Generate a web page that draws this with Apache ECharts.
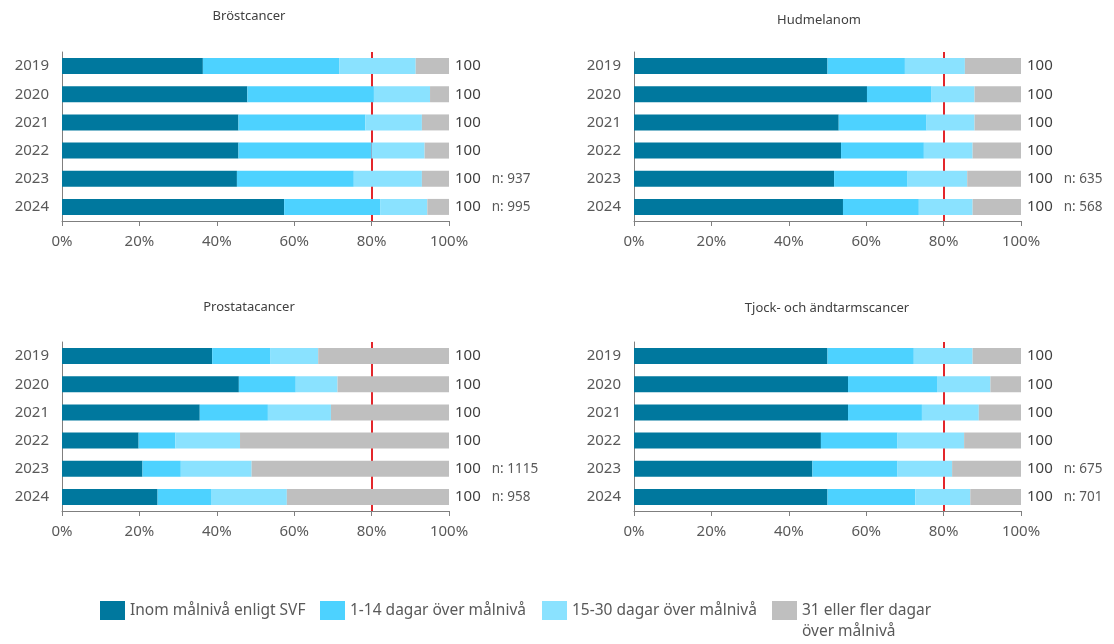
<!DOCTYPE html>
<html>
<head>
<meta charset="utf-8">
<script src="https://cdn.jsdelivr.net/npm/echarts@6/dist/echarts.min.js"></script>
<style>
  html, body { margin: 0; padding: 0; background: #ffffff; }
  #chart { width: 1114px; height: 644px; }
</style>
</head>
<body>
<div id="chart"></div>
<script>
// Years shown on each panel's category axis
const years = ['2019', '2020', '2021', '2022', '2023', '2024'];

// Share of patients (%) per waiting-time band
const seriesNames = [
  'Inom målnivå enligt SVF',
  '1-14 dagar över målnivå',
  '15-30 dagar över målnivå',
  '31 eller fler dagar över målnivå'
];

// Bröstcancer
const brostInom   = [36.4, 47.9, 45.6, 45.6, 45.2, 57.4];
const brost1_14   = [35.3, 32.7, 32.8, 34.4, 30.2, 24.8];
const brost15_30  = [19.7, 14.5, 14.6, 13.7, 17.6, 12.2];
const brost31     = [8.6, 4.9, 7.0, 6.3, 7.0, 5.6];
const brostTotal  = [100, 100, 100, 100, 100, 100];
const brostN      = [null, null, null, null, 937, 995];

// Hudmelanom
const hudInom   = [50.0, 60.2, 52.9, 53.5, 51.7, 54.0];
const hud1_14   = [20.0, 16.7, 22.7, 21.4, 19.0, 19.6];
const hud15_30  = [15.5, 11.1, 12.4, 12.6, 15.4, 13.9];
const hud31     = [14.5, 12.0, 12.0, 12.5, 13.9, 12.5];
const hudTotal  = [100, 100, 100, 100, 100, 100];
const hudN      = [null, null, null, null, 635, 568];

// Prostatacancer
const prostInom   = [38.8, 45.7, 35.6, 19.8, 20.8, 24.7];
const prost1_14   = [15.1, 14.7, 17.6, 9.5, 9.9, 13.8];
const prost15_30  = [12.3, 10.8, 16.3, 16.7, 18.3, 19.6];
const prost31     = [33.8, 28.8, 30.5, 54.0, 51.0, 41.9];
const prostTotal  = [100, 100, 100, 100, 100, 100];
const prostN      = [null, null, null, null, 1115, 958];

// Tjock- och ändtarmscancer
const tjockInom   = [50.0, 55.3, 55.3, 48.3, 46.1, 50.0];
const tjock1_14   = [22.3, 23.0, 19.1, 19.8, 22.0, 22.7];
const tjock15_30  = [15.2, 13.8, 14.7, 17.2, 14.1, 14.2];
const tjock31     = [12.5, 7.9, 10.9, 14.7, 17.8, 13.1];
const tjockTotal  = [100, 100, 100, 100, 100, 100];
const tjockN      = [null, null, null, null, 675, 701];

// Target line (%)
const targetLevel = 80;

// x-axis ticks
const xMin = 0, xMax = 100, xStep = 20;

const panels = [
  { title: 'Bröstcancer', bands: [brostInom, brost1_14, brost15_30, brost31], totals: brostTotal, n: brostN },
  { title: 'Hudmelanom', bands: [hudInom, hud1_14, hud15_30, hud31], totals: hudTotal, n: hudN },
  { title: 'Prostatacancer', bands: [prostInom, prost1_14, prost15_30, prost31], totals: prostTotal, n: prostN },
  { title: 'Tjock- och ändtarmscancer', bands: [tjockInom, tjock1_14, tjock15_30, tjock31], totals: tjockTotal, n: tjockN }
];

const colors = ['#00789E', '#4DD2FF', '#8AE2FF', '#BFBFBF'];
const FONT = 'Noto Sans';
const textGrey = '#595959';
const axisGrey = '#7f7f7f';

// Panel frames: [left, top] of each plot area and title anchor
const frames = [
  { left: 62, top: 52, titleX: 249, titleY: 10 },
  { left: 634, top: 52, titleX: 819, titleY: 14 },
  { left: 62, top: 342, titleX: 249, titleY: 301 },
  { left: 634, top: 342, titleX: 827, titleY: 302 }
];
const plotW = 387, plotH = 169;

const grid = [], xAxis = [], yAxis = [], series = [], title = [];

panels.forEach((p, i) => {
  const f = frames[i];
  grid.push({ left: f.left, top: f.top, width: plotW, height: plotH, containLabel: false });
  title.push({
    text: p.title, left: f.titleX, top: f.titleY, textAlign: 'center', padding: 0,
    textStyle: { fontFamily: FONT, fontSize: 13, fontWeight: 'normal', color: '#404040' }
  });
  xAxis.push({
    type: 'value', gridIndex: i, min: xMin, max: xMax, interval: xStep,
    axisLine: { show: true, lineStyle: { color: axisGrey, width: 1 } },
    axisTick: { show: true, length: 5, lineStyle: { color: axisGrey } },
    splitLine: { show: false },
    axisLabel: { formatter: '{value}%', fontFamily: FONT, fontSize: 15, color: textGrey, margin: 13 }
  });
  yAxis.push({
    type: 'category', gridIndex: i, data: years, inverse: true,
    axisLine: { show: true, lineStyle: { color: axisGrey, width: 1 } },
    axisTick: { show: false },
    axisLabel: { fontFamily: FONT, fontSize: 15, color: textGrey, margin: 13 }
  });

  // 80% target line, drawn beneath the bars
  series.push({
    type: 'line', xAxisIndex: i, yAxisIndex: i, data: [], z: 1,
    markLine: {
      silent: true, symbol: 'none', z: 1, animation: false,
      label: { show: false },
      lineStyle: { color: '#E3262B', width: 2, type: 'solid' },
      data: [{ xAxis: targetLevel }]
    }
  });

  p.bands.forEach((vals, k) => {
    const s = {
      name: seriesNames[k], type: 'bar', stack: 'panel' + i,
      xAxisIndex: i, yAxisIndex: i, data: vals, barWidth: 16, z: 10,
      itemStyle: { color: colors[k] }, animation: false
    };
    if (k === p.bands.length - 1) {
      s.label = {
        show: true, position: 'right', distance: 6,
        formatter: (prm) => {
          const idx = prm.dataIndex;
          const nv = p.n[idx];
          return '{t|' + p.totals[idx] + '}' + (nv != null ? '{n|n: ' + nv + '}' : '');
        },
        rich: {
          t: { fontFamily: FONT, fontSize: 15, color: '#404040' },
          n: { fontFamily: FONT, fontSize: 13.5, color: textGrey, padding: [0, 0, 0, 11] }
        }
      };
    }
    series.push(s);
  });
});

// One legend block per band so each swatch sits where it belongs
const legendLefts = [100, 320, 542, 772];
const legend = seriesNames.map((name, k) => {
  const lg = {
    left: legendLefts[k], top: 601, padding: 0,
    itemWidth: 25, itemHeight: 19, itemGap: 10,
    icon: 'rect', selectedMode: false,
    data: [name],
    textStyle: { fontFamily: FONT, fontSize: 15.5, color: textGrey }
  };
  if (k === 3) {
    // label wraps onto a second line below the swatch row
    lg.formatter = () => ' \n31 eller fler dagar\növer målnivå';
    lg.top = 579;
    lg.textStyle = { fontFamily: FONT, fontSize: 15.5, color: textGrey, lineHeight: 21 };
  }
  return lg;
});

const chart = echarts.init(document.getElementById('chart'), null, { renderer: 'canvas' });
chart.setOption({
  backgroundColor: '#ffffff',
  animation: false,
  title, grid, xAxis, yAxis, legend, series
});
</script>
</body>
</html>
